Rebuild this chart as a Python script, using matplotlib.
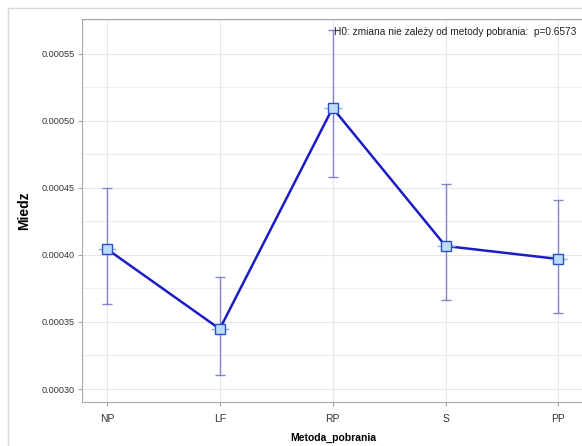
import matplotlib.pyplot as plt
from matplotlib.lines import Line2D
from matplotlib.ticker import MultipleLocator

methods = ['NP', 'LF', 'RP', 'S', 'PP']
means = [0.0004045, 0.0003448, 0.0005097, 0.0004067, 0.000397]
lower = [0.0003634, 0.0003104, 0.0004582, 0.0003664, 0.0003567]
upper = [0.0004500, 0.0003836, 0.0005679, 0.0004530, 0.0004410]
yticks = [0.00030, 0.00035, 0.00040, 0.00045, 0.00050, 0.00055]
note = 'H0: zmiana nie zale\u017cy od metody pobrania:  p=0.6573'

plt.rcParams['font.family'] = ['Liberation Sans', 'DejaVu Sans']

fig = plt.figure(figsize=(5.82, 4.46), dpi=100)
# the right edge of the plot area sits just past the picture, as in the source
ax = fig.add_axes([82 / 582, 1 - 402 / 446, 503 / 582, 383 / 446])

x = list(range(len(methods)))
err = [[m - lo for m, lo in zip(means, lower)],
       [hi - m for m, hi in zip(means, upper)]]

ax.errorbar(x, means, yerr=err, fmt='none', ecolor='#8484cc', elinewidth=1,
            capsize=3.5, capthick=1, zorder=2)
ax.plot(x, means, color='#1c1cc4', lw=1.8, zorder=3)
ax.plot(x, means, ls='none', marker='_', ms=13, mew=1, color='#8ab4f0', zorder=4)
ax.plot(x, means, ls='none', marker='s', ms=6.5, mfc='#c0dcfc', mec='#2850c8',
        mew=1, zorder=5)

ax.set_xlim(-0.22, 4.235)
ax.set_ylim(0.0002903, 0.0005761)
ax.set_xticks(x)
ax.set_xticklabels(methods)
ax.set_yticks(yticks)
ax.set_yticklabels(['%.5f' % v for v in yticks])
ax.yaxis.set_minor_locator(MultipleLocator(0.000025))

ax.grid(True, which='major', color='#e6e6ee', lw=0.8)
ax.grid(True, which='minor', axis='y', color='#ededf2', lw=0.8)
ax.set_axisbelow(True)

for s in ax.spines.values():
    s.set_color('#a8a8a8')
    s.set_linewidth(0.8)
ax.tick_params(axis='both', which='major', length=3, color='#a8a8a8',
               labelsize=6.6, labelcolor='#333333', pad=2)
ax.tick_params(axis='x', pad=6, labelsize=7.5)
ax.tick_params(axis='y', which='minor', length=0)

ax.set_xlabel('Metoda_pobrania', fontsize=7.5, fontweight='bold', labelpad=6)
ax.set_ylabel('Miedz', fontsize=10, fontweight='bold', labelpad=8)

ax.text(0.982, 0.978, note, transform=ax.transAxes, ha='right', va='top',
        fontsize=7.3, color='#222222')

fig.add_artist(Line2D([8 / 582, 1], [1 - 8 / 446, 1 - 8 / 446],
                      transform=fig.transFigure, color='#d8d8d8', lw=1))
fig.add_artist(Line2D([8 / 582, 8 / 582], [1 - 8 / 446, 0],
                      transform=fig.transFigure, color='#d8d8d8', lw=1))

fig.savefig('out.png', dpi=100)
